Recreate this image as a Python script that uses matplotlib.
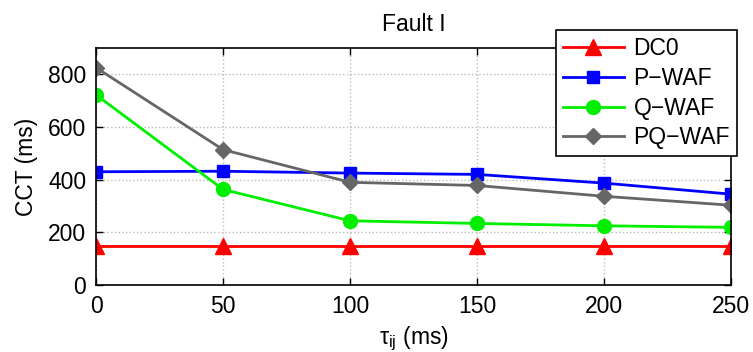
import matplotlib
matplotlib.use('Agg')
import matplotlib.pyplot as plt

# data
tau = [0, 50, 100, 150, 200, 250]
dc0 = [150, 150, 150, 150, 150, 150]
p_waf = [430, 432, 425, 420, 387, 345]
q_waf = [722, 363, 244, 234, 225, 219]
pq_waf = [825, 514, 390, 378, 337, 303]

plt.rcParams['font.family'] = ['Liberation Sans', 'DejaVu Sans']
plt.rcParams['mathtext.fontset'] = 'custom'
plt.rcParams['mathtext.rm'] = 'Liberation Sans'
plt.rcParams['mathtext.it'] = 'Liberation Sans:italic'

fig = plt.figure(figsize=(7.53, 3.52), dpi=100)
ax = fig.add_axes([0.1275, 0.190, 0.8435, 0.674])

ax.plot(tau, dc0, color='#ff0000', marker='^', markersize=11, linewidth=2, label='DC0')
ax.plot(tau, p_waf, color='#0000ff', marker='s', markersize=8, linewidth=2, label='P\u2212WAF')
ax.plot(tau, q_waf, color='#00ee00', marker='o', markersize=10, linewidth=2, label='Q\u2212WAF')
ax.plot(tau, pq_waf, color='#666666', marker='D', markersize=8, linewidth=2, label='PQ\u2212WAF')

ax.set_xlim(0, 250)
ax.set_ylim(0, 900)
ax.set_xticks(tau)
ax.set_yticks([0, 200, 400, 600, 800])
ax.tick_params(direction='in', labelsize=16.5, length=5, width=1, top=True, right=True, pad=7)
ax.grid(True, linestyle=':', color='#bbbbbb', linewidth=1)
for s in ax.spines.values():
    s.set_linewidth(1.2)

ax.set_title('Fault I', fontsize=16.5, pad=12)
ax.set_ylabel('CCT (ms)', fontsize=16.5, labelpad=7)
ax.set_xlabel(r'$\mathrm{τ_{ij}}$ (ms)', fontsize=16.5, labelpad=5)

leg = ax.legend(loc='upper right', bbox_to_anchor=(0.9787, 0.915), bbox_transform=fig.transFigure,
                fontsize=16.5, fancybox=False, framealpha=1, edgecolor='black', borderaxespad=0,
                handlelength=2.7, borderpad=0.3, labelspacing=0.3, handletextpad=0.4)
leg.get_frame().set_linewidth(1.2)

fig.savefig('out.png', dpi=100)
